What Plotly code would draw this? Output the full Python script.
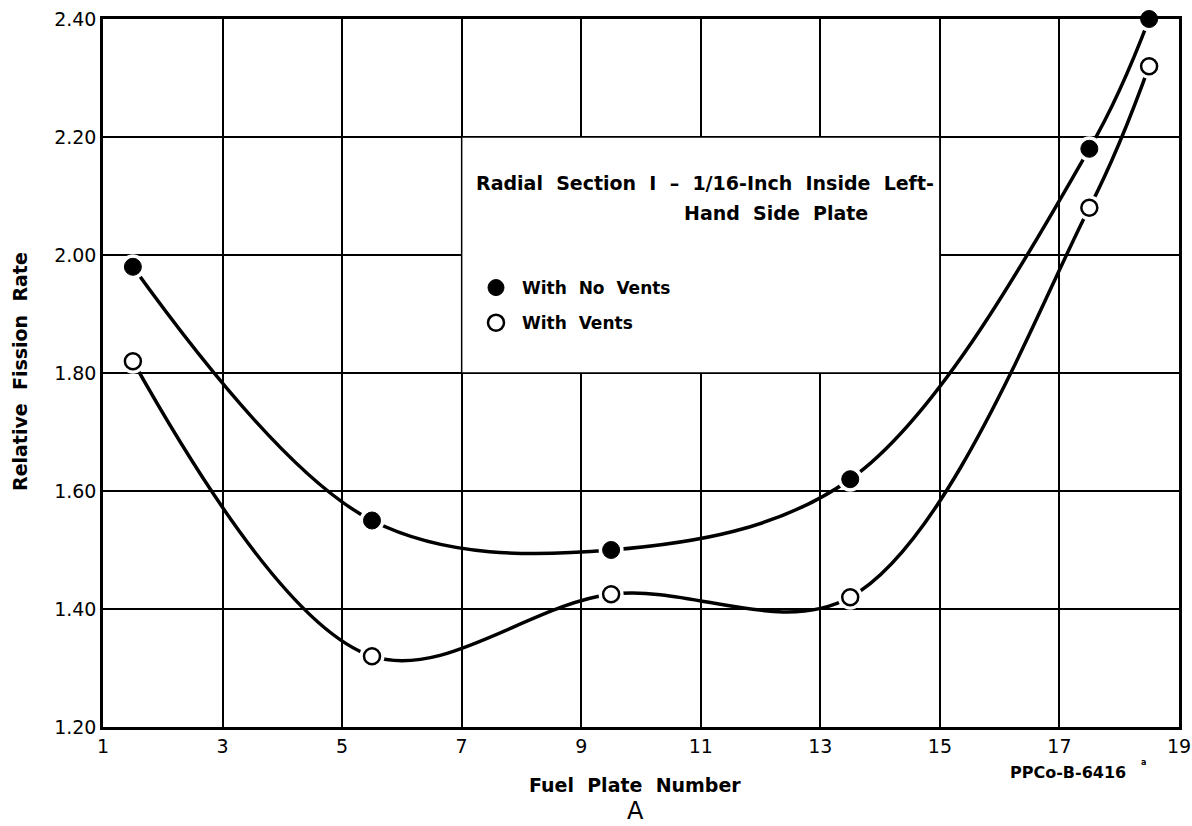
import plotly.graph_objects as go

# ---- data ----
fuel_plate = [1.5, 5.5, 9.5, 13.5, 17.5, 18.5]
no_vents = [1.98, 1.55, 1.50, 1.62, 2.18, 2.40]
with_vents = [1.82, 1.32, 1.425, 1.42, 2.08, 2.32]

x_ticks = [1, 3, 5, 7, 9, 11, 13, 15, 17, 19]
y_ticks = [1.20, 1.40, 1.60, 1.80, 2.00, 2.20, 2.40]
y_tick_labels = ["1.20", "1.40", "1.60", "1.80", "2.00", "2.20", "2.40"]

NB = "\u00a0"
def sp(s):
    return s.replace(" ", NB + NB)

FONT = "DejaVu Sans"
L, R, T, B = 103, 13, 19, 99
W, H = 1192, 826
PW, PH = W - L - R, H - T - B

def px(xp):
    return (xp - L) / PW

def py(yp):
    return (H - B - yp) / PH

fig = go.Figure()

# curves
for ys in (no_vents, with_vents):
    fig.add_trace(go.Scatter(x=fuel_plate, y=ys, mode="lines",
                             line=dict(color="black", width=3.5, shape="spline", smoothing=1.0),
                             showlegend=False, hoverinfo="skip", cliponaxis=False))
# white halos giving the gaps round the points
for ys in (no_vents, with_vents):
    fig.add_trace(go.Scatter(x=fuel_plate, y=ys, mode="markers",
                             marker=dict(size=25, color="white", line=dict(width=0)),
                             showlegend=False, hoverinfo="skip", cliponaxis=False))

fig.add_trace(go.Scatter(x=fuel_plate, y=no_vents, mode="markers", name=sp("With No Vents"),
                         legendgroup="a",
                         marker=dict(size=17, color="black", line=dict(color="black", width=1)),
                         cliponaxis=False))
fig.add_trace(go.Scatter(x=fuel_plate, y=with_vents, mode="markers", name=sp("With Vents"),
                         legendgroup="b",
                         marker=dict(size=16, color="white", line=dict(color="black", width=2.5)),
                         cliponaxis=False))

# white panel behind the caption (covers the grid)
fig.add_shape(type="rect", xref="x", yref="y", x0=7, x1=15, y0=1.80, y1=2.20,
              fillcolor="white", line=dict(color="black", width=1.5), layer="between")

fig.update_xaxes(range=[1, 19], tickvals=x_ticks, ticktext=[str(v) for v in x_ticks],
                 showgrid=True, gridcolor="black", gridwidth=1.5,
                 showline=True, linecolor="black", linewidth=2.5, mirror=True,
                 ticks="", ticklabelstandoff=0, zeroline=False, automargin=False,
                 tickfont=dict(family=FONT, size=19, color="black"))
fig.update_yaxes(range=[1.2, 2.4], tickvals=y_ticks, ticktext=y_tick_labels,
                 showgrid=True, gridcolor="black", gridwidth=1.5,
                 showline=True, linecolor="black", linewidth=2.5, mirror=True,
                 ticks="", ticklabelstandoff=0, zeroline=False, automargin=False,
                 tickfont=dict(family=FONT, size=19, color="black"))

ann_font = dict(family=FONT, size=19, color="black", weight="bold")
fig.add_annotation(text=sp("Relative Fission Rate"), xref="paper", yref="paper",
                   x=0, y=py(372), yanchor="middle", xanchor="center",
                   xshift=-83, textangle=-90, showarrow=False, font=ann_font)
fig.add_annotation(text=sp("Fuel Plate Number"), xref="paper", yref="paper",
                   x=px(635), y=py(785), xanchor="center", yanchor="middle", showarrow=False,
                   font=dict(family=FONT, size=19, color="black", weight="bold"))
fig.add_annotation(text="A", xref="paper", yref="paper",
                   x=px(635), y=py(811), xanchor="center", yanchor="middle", showarrow=False,
                   font=dict(family=FONT, size=24, color="black"))
fig.add_annotation(text="PPCo-B-6416", xref="paper", yref="paper",
                   x=px(1068), y=py(772), xanchor="center", yanchor="middle", showarrow=False,
                   font=dict(family=FONT, size=16, color="black", weight="bold"))
fig.add_annotation(text="a", xref="paper", yref="paper",
                   x=px(1143), y=py(762), xanchor="center", yanchor="middle", showarrow=False,
                   font=dict(family=FONT, size=8, color="black", weight="bold"))
fig.add_annotation(text=sp("Radial Section I \u2013 1/16-Inch Inside Left-"),
                   xref="paper", yref="paper", x=px(936), y=py(183),
                   xanchor="right", yanchor="middle", showarrow=False, font=ann_font)
fig.add_annotation(text=sp("Hand Side Plate"),
                   xref="paper", yref="paper", x=px(776), y=py(213),
                   xanchor="center", yanchor="middle", showarrow=False, font=ann_font)

fig.update_layout(
    width=W, height=H,
    margin=dict(l=L, r=R, t=T, b=B, autoexpand=False),
    paper_bgcolor="white", plot_bgcolor="white",
    showlegend=True,
    legend=dict(x=px(470), y=py(270), xanchor="left", yanchor="top",
                bgcolor="rgba(0,0,0,0)", font=dict(family=FONT, size=17, color="black", weight="bold"),
                tracegroupgap=10, traceorder="grouped", itemwidth=42),
)

fig.write_html("out.html", config={"displayModeBar": False},
               post_script="document.body.style.margin='0';document.body.style.overflow='hidden';")
